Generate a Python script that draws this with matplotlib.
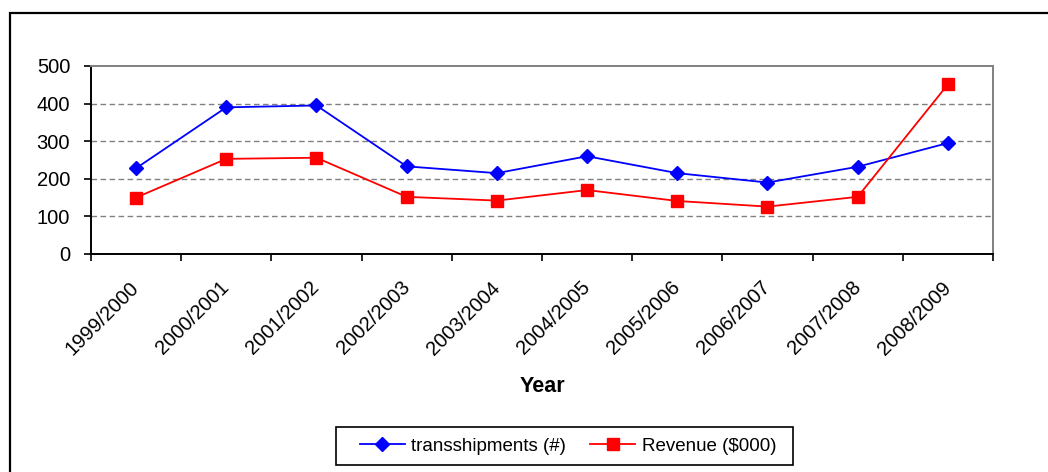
import numpy as np
import matplotlib.pyplot as plt
from matplotlib.patches import Rectangle
from matplotlib.ticker import FixedLocator

plt.rcParams['font.family'] = ['Liberation Sans', 'DejaVu Sans']

# data
years = ["1999/2000", "2000/2001", "2001/2002", "2002/2003", "2003/2004",
         "2004/2005", "2005/2006", "2006/2007", "2007/2008", "2008/2009"]
transshipments = [228, 390, 395, 233, 215, 260, 215, 190, 232, 295]
revenue = [150, 253, 256, 152, 142, 170, 141, 126, 152, 451]

W, H = 1048, 472
fig = plt.figure(figsize=(W / 100, H / 100), dpi=100)
ax = fig.add_axes([0.0868, 0.4619, 0.8607, 0.3983])

# outer chart frame
fig.patches.append(Rectangle((9.5 / W, -0.01), 1.02, 1 - 12.5 / H + 0.01,
                             transform=fig.transFigure, fill=False,
                             edgecolor="black", linewidth=1.6))

x = np.arange(len(years))
ax.plot(x, transshipments, color="#0000ff", marker="D", markersize=7,
        linewidth=1.3, label="transshipments (#)")
ax.plot(x, revenue, color="#ff0000", marker="s", markersize=8.5,
        linewidth=1.3, label="Revenue ($000)")

ax.set_xlim(-0.5, len(years) - 0.5)
ax.set_ylim(0, 500)
ax.set_yticks(range(0, 501, 100))
ax.set_xticks(x)
ax.set_xticklabels(years, rotation=45, ha="right", va="center",
                   rotation_mode="anchor")
ax.xaxis.set_minor_locator(FixedLocator(np.arange(-0.5, len(years), 1)))
ax.tick_params(axis="x", which="major", length=0, pad=22, labelsize=14.5)
ax.tick_params(axis="x", which="minor", length=5, width=1.2, direction="out")
ax.tick_params(axis="y", length=5, width=1.2, labelsize=14.5, pad=10)

for v in range(100, 500, 100):
    ax.axhline(v, color="#808080", linestyle=(0, (4, 2.5)), linewidth=1, zorder=0)

for s in ["left", "bottom"]:
    ax.spines[s].set_color("black")
    ax.spines[s].set_linewidth(1.4)
for s in ["top", "right"]:
    ax.spines[s].set_color("#808080")
    ax.spines[s].set_linewidth(1.4)

ax.set_xlabel("Year", fontsize=15.5, fontweight="bold", labelpad=13)

# legend box drawn separately so its padding matches the original
fig.patches.append(Rectangle((336 / W, 1 - 465 / H), (793 - 336) / W, 38 / H,
                             transform=fig.transFigure, fill=False,
                             edgecolor="black", linewidth=1.2))
fig.legend(loc="center", bbox_to_anchor=(568 / W, 1 - 446 / H),
           ncol=2, fontsize=13.5, frameon=False, handlelength=2.4,
           columnspacing=1.3, handletextpad=0.35, borderpad=0)

fig.savefig("out.png", dpi=100)
